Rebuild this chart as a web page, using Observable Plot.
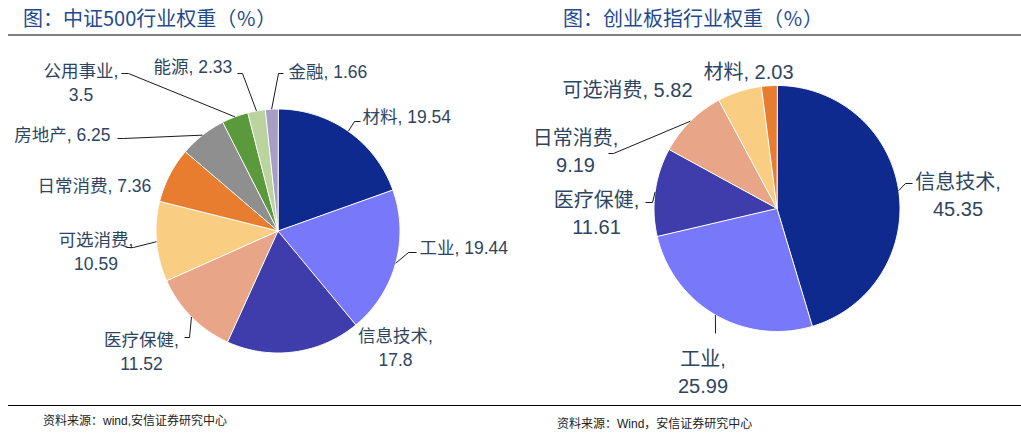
<!DOCTYPE html>
<html>
<head>
<meta charset="utf-8">
<script src="https://cdn.jsdelivr.net/npm/d3@7"></script>
<script src="https://cdn.jsdelivr.net/npm/@observablehq/plot@0.6"></script>
<style>
  body { margin: 0; background: #fff; }
  #page { position: relative; width: 1021px; height: 435px; overflow: hidden; font-family: "Noto Sans CJK SC", sans-serif; }
  .title { position: absolute; top: 4px; font-size: 20px; color: #234A8C; line-height: 28px; white-space: nowrap; }
  .title .p { display: inline-block; width: 1em; overflow: hidden; vertical-align: top; }
  .title .l { text-align: left; }
  .title .r { text-align: right; }
  .title .c { text-align: center; }
  .rule { position: absolute; left: 8px; width: 1013px; }
  .src { position: absolute; font-size: 12px; color: #222; line-height: 16px; white-space: nowrap; font-family: "Liberation Sans", "Noto Sans CJK SC", sans-serif; }
  .panel { position: absolute; top: 40px; }
</style>
</head>
<body>
<div id="page">
  <div class="title" style="left:23px">图<span class="p l">：</span>中证500行业权重<span class="p r">（</span><span class="p c">%</span><span class="p l">）</span></div>
  <div class="title" style="left:563px">图<span class="p l">：</span>创业板指行业权重<span class="p r">（</span><span class="p c">%</span><span class="p l">）</span></div>
  <div class="rule" style="top:34px;height:2px;background:#7f7f7f"></div>
  <div class="panel" id="left" style="left:0px"></div>
  <div class="panel" id="right" style="left:510px"></div>
  <div class="rule" style="top:405px;height:1px;background:#000"></div>
  <div class="src" style="left:43px;top:413px">资料来源：wind,安信证券研究中心</div>
  <div class="src" style="left:557px;top:416px">资料来源：Wind，安信证券研究中心</div>
</div>
<script>
// ---- data ----
const csi500Industries = ["材料", "工业", "信息技术", "医疗保健", "可选消费", "日常消费", "房地产", "公用事业", "能源", "金融"];
const csi500Weights = [19.54, 19.44, 17.8, 11.52, 10.59, 7.36, 6.25, 3.5, 2.33, 1.66];
const chinextIndustries = ["信息技术", "工业", "医疗保健", "日常消费", "可选消费", "材料"];
const chinextWeights = [45.35, 25.99, 11.61, 9.19, 5.82, 2.03];

// ---- styles ----
const sliceColors = ["#0E2A8E", "#7878FA", "#3F3DAC", "#E9A587", "#F9CE82", "#E97D2F", "#8F8F8F", "#5B9A3C", "#BBD39E", "#A89DC4"];
const labelColor = "#2E4561";

// ---- label layout (pixel offsets from pie centre, y down) ----
const csi500Layout = [
  {anchor: "start",  dx: 84.5,   dy: -115.5, wrap: false, knees: [[76.5, -109.5], [82.5, -109.5]]},
  {anchor: "start",  dx: 141.5,  dy: 15.5,   wrap: false, knees: [[130.5, 21.5], [138.5, 21.5]]},
  {anchor: "middle", dx: 117.5,  dy: 115.5,  wrap: true,  knees: null},
  {anchor: "middle", dx: -136.5, dy: 119.5,  wrap: true,  knees: [[-88.5, 106.5], [-93.5, 106.5]]},
  {anchor: "middle", dx: -182,   dy: 19.5,   wrap: true,  knees: [[-144.5, 16.5], [-151.5, 16.5]]},
  {anchor: "start",  dx: -240.5, dy: -46.5,  wrap: false, knees: null},
  {anchor: "end",    dx: -167.5, dy: -97.5,  wrap: false, knees: [[-154.5, -92.5], [-160.5, -92.5]]},
  {anchor: "middle", dx: -197,   dy: -149.5, wrap: true,  knees: [[-149.5, -157.5], [-156.5, -157.5]]},
  {anchor: "start",  dx: -124.5, dy: -165.5, wrap: false, knees: [[-35.5, -157.5], [-40.5, -157.5]]},
  {anchor: "start",  dx: 10.5,   dy: -160.5, wrap: false, knees: [[0.5, -157.5], [5.5, -157.5]]}
];
const chinextLayout = [
  {anchor: "middle", dx: 181,    dy: -15,  wrap: true,  knees: [[128.5, -25], [135.5, -25]]},
  {anchor: "middle", dx: -74,    dy: 162,  wrap: true,  knees: [[-61.5, 125]]},
  {anchor: "middle", dx: -180.5, dy: 3.5,  wrap: true,  knees: [[-124.5, -6], [-131.5, -6]]},
  {anchor: "middle", dx: -201.5, dy: -59,  wrap: true,  knees: [[-163.5, -55], [-168.5, -55]]},
  {anchor: "start",  dx: -214.5, dy: -120, wrap: false, knees: null},
  {anchor: "start",  dx: -73.5,  dy: -138, wrap: false, knees: null}
];

function piePlot({names, values, layout, cx, cy, R, width, height, fontSize, lineHeight}) {
  const arcs = d3.pie().sort(null).value(d => d)(values);
  const slicePts = [];
  const leaderPts = [];
  const labels = [];
  arcs.forEach((a, i) => {
    const n = Math.max(2, Math.ceil((a.endAngle - a.startAngle) / (Math.PI / 180)));
    slicePts.push({k: i, x: 0, y: 0, c: sliceColors[i]});
    for (let j = 0; j <= n; j++) {
      const t = a.startAngle + (a.endAngle - a.startAngle) * j / n;
      slicePts.push({k: i, x: Math.sin(t), y: -Math.cos(t), c: sliceColors[i]});
    }
    const L = layout[i];
    const mid = (a.startAngle + a.endAngle) / 2;
    if (L.knees) {
      leaderPts.push({k: i, x: Math.sin(mid), y: -Math.cos(mid)});
      L.knees.forEach(([kx, ky]) => leaderPts.push({k: i, x: kx / R, y: ky / R}));
    }
    labels.push({
      x: L.dx / R, y: L.dy / R, anchor: L.anchor,
      text: names[i] + "," + (L.wrap ? "\n" : " ") + values[i]
    });
  });
  const textMark = anchor => Plot.text(labels.filter(d => d.anchor === anchor), {
    x: "x", y: "y", text: "text", textAnchor: anchor, lineAnchor: "middle",
    fontSize, lineHeight, fill: labelColor,
    fontFamily: "'Liberation Sans', 'Noto Sans CJK SC', sans-serif"
  });
  return Plot.plot({
    width, height, margin: 0,
    x: {domain: [-1, 1], range: [cx - R, cx + R], axis: null},
    y: {domain: [-1, 1], range: [cy - R, cy + R], axis: null},
    color: {type: "identity"},
    style: {background: "transparent", overflow: "visible"},
    marks: [
      Plot.line(slicePts, {x: "x", y: "y", z: "k", fill: "c", stroke: "#fff", strokeWidth: 1, curve: "linear-closed", strokeLinejoin: "miter"}),
      Plot.line(leaderPts, {x: "x", y: "y", z: "k", stroke: "#1a1a1a", strokeWidth: 1, strokeLinejoin: "miter", strokeLinecap: "butt"}),
      textMark("start"), textMark("middle"), textMark("end")
    ]
  });
}

document.getElementById("left").appendChild(piePlot({
  names: csi500Industries, values: csi500Weights, layout: csi500Layout,
  cx: 277.5, cy: 190.5, R: 122, width: 510, height: 360, fontSize: 17.5, lineHeight: 1.37
}));
document.getElementById("right").appendChild(piePlot({
  names: chinextIndustries, values: chinextWeights, layout: chinextLayout,
  cx: 266.5, cy: 168, R: 123, width: 511, height: 360, fontSize: 20, lineHeight: 1.35
}));
</script>
</body>
</html>
